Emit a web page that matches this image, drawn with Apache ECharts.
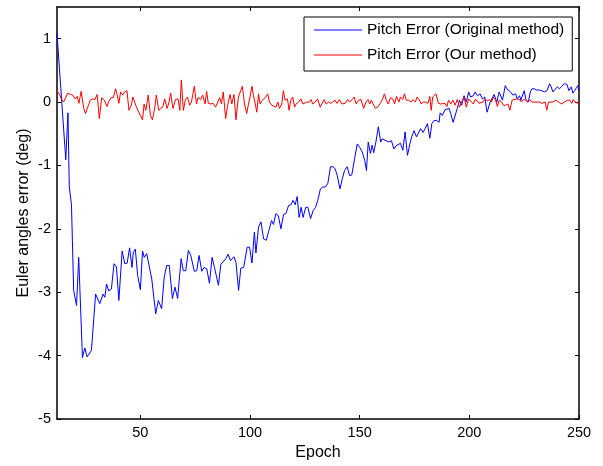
<!DOCTYPE html>
<html>
<head>
<meta charset="utf-8">
<script src="https://cdn.jsdelivr.net/npm/echarts@6/dist/echarts.min.js"></script>
<style>html,body{margin:0;padding:0;background:#fff;}#c{width:603px;height:466px;}</style>
</head>
<body>
<div id="c"></div>
<script>
// ---- data ----
const xTicks = [50, 100, 150, 200, 250];
const yTicks = [-5, -4, -3, -2, -1, 0, 1];
const seriesNames = ['Pitch Error (Original method)', 'Pitch Error (Our method)'];

const origEpoch = [12,16,17,17.6,18.6,19.6,20.9,21.9,23.6,24.7,25.7,27.7,29.6,31.5,33,33.8,34.6,35.6,36.8,38,39.1,40.2,41.7,42.9,44,45.1,46.2,46.8,47.7,48.8,50,51,51.8,52.9,53.7,55.2,57,58.2,59.7,60.9,62,63.2,64.6,65.8,67,68.6,69.6,70.7,71.9,73,74.6,75.7,76.8,78,79,80.3,81.5,82.7,83.8,84.7,85.6,86.7,87.6,89,90,91.1,92.7,93.6,94.8,95.8,97.1,98.7,99.8,100.9,102,102.7,103.9,105,106.2,107.4,108.6,109.8,110.7,111.8,112.9,114.1,115.3,116.4,117.6,118.7,119.6,120.6,121.5,122.4,123.3,124.2,125.4,126.4,127.6,128.8,129.9,130.9,132.1,133.2,134.4,135.5,136.7,137.8,138.8,139.8,141,142.1,143.1,144.3,145.4,146.4,147.7,148.9,150.1,151.2,152.3,153.1,153.9,154.9,155.7,156.4,157.4,158.5,159.6,160.3,161.1,162.1,163.3,164.5,165.6,166.6,167.5,168.6,169.7,170.7,171.8,172.9,173.8,174.8,175.9,176.8,177.8,178.9,179.8,180.9,182,182.9,183.9,185.1,186.2,186.7,187.7,188.9,189.8,190.8,191.5,192.6,193.5,194.5,195.5,196.5,197.6,198.6,199.7,200.6,201.8,202.6,203.7,204.9,206,207,208.1,208.8,209.5,210.3,211.3,212.5,213.6,214.4,215.1,216.4,217.1,218,218.8,219.8,221.1,221.8,222.9,223.5,224.3,225,225.8,226.9,227.8,228.6,229.6,230.7,231.9,233,234.2,235.4,236.6,237.3,238.1,238.9,240.1,241.1,242.2,243.4,244.5,245.4,246.5,247.2,248,248.8,249.5,250];
const origError = [1.08,-0.91,-0.17,-1.34,-1.62,-2.97,-3.21,-2.45,-4.03,-3.88,-4.02,-3.92,-3.03,-3.18,-3.03,-3.08,-2.87,-2.98,-2.95,-2.55,-2.6,-3.13,-2.35,-2.55,-2.54,-2.3,-2.61,-2.37,-2.32,-2.74,-2.96,-2.35,-2.45,-2.39,-2.39,-2.79,-3.34,-3.13,-3.26,-2.76,-2.58,-2.58,-3.1,-2.92,-3.1,-2.47,-2.66,-2.66,-2.34,-2.42,-2.67,-2.66,-2.42,-2.67,-2.61,-2.63,-2.86,-2.45,-2.61,-2.61,-2.89,-2.56,-2.58,-2.47,-2.4,-2.5,-2.44,-2.53,-2.97,-2.62,-2.61,-2.29,-2.29,-2.54,-2.05,-2.38,-1.97,-1.89,-2.16,-2.18,-2.03,-1.87,-1.93,-1.76,-1.79,-2.0,-1.77,-1.76,-1.63,-1.62,-1.55,-1.62,-1.49,-1.82,-1.66,-1.82,-1.66,-1.66,-1.84,-1.71,-1.66,-1.55,-1.37,-1.34,-1.34,-1.28,-1.02,-1.02,-1.05,-1.16,-1.37,-1.21,-1.08,-1.02,-1.16,-1.15,-0.89,-0.66,-0.72,-0.79,-0.92,-1.08,-0.63,-0.81,-0.68,-0.8,-0.63,-0.39,-0.63,-0.58,-0.6,-0.61,-0.63,-0.61,-0.74,-0.69,-0.72,-0.65,-0.76,-0.47,-0.84,-0.66,-0.54,-0.45,-0.55,-0.53,-0.42,-0.48,-0.42,-0.34,-0.57,-0.34,-0.29,-0.29,-0.32,-0.17,-0.21,-0.12,-0.14,-0.1,-0.18,-0.32,-0.34,-0.1,0.03,-0.05,0.1,0.0,0.16,0.08,0.1,0.16,0.1,0.13,0.05,0.08,-0.16,-0.13,0.0,-0.03,0.12,0.0,0.16,0.18,0.03,0.26,0.21,0.18,0.16,0.11,0.13,0.05,0.1,0.03,0.05,0.18,0.04,0.0,0.16,0.21,0.21,0.19,0.19,0.18,0.16,0.18,0.29,0.24,0.16,0.18,0.24,0.21,0.25,0.29,0.28,0.18,0.24,0.14,0.18,0.21,0.26,0.18];

const ourEpoch = [12,13.3,14,15,15.9,16.9,18.2,19.2,20.3,21.2,22,23,24.2,25,26,27.2,28.3,29.3,30.3,31.3,32.4,33.6,34.8,35.6,36.7,37.7,38.7,39.5,40.2,41,42,42.8,43.9,44.8,45.9,46.6,47.9,49,50,51,51.7,52.5,53.6,54.6,55.5,56.6,57.3,58.4,59.3,60.3,61.1,62.2,63.1,63.8,64.9,66,67.2,68,68.7,69.6,70.5,71.5,72.5,73.3,74.6,75.6,76.3,77.5,78.4,79.5,80.2,81,82.2,83.2,84.3,85.2,86.2,87,87.8,88.9,89.8,90.9,91.7,92.7,93.6,94.7,95.5,96.5,97.5,98.5,99.3,100,100.9,101.6,102.4,103.1,103.9,104.6,105.4,106.2,107.2,108.1,108.9,109.9,110.7,111.8,112.7,113.4,114.5,115.2,116,117.1,117.8,118.6,119.5,120.3,121,122.1,123.2,124.1,124.8,125.9,127,127.8,128.6,129.7,130.8,132,132.7,133.8,134.7,135.8,136.8,137.7,138.8,139.6,140.7,141.9,142.6,143.4,144.5,145.4,146.5,147.5,148.4,149.5,150.6,151.8,152.9,153.8,154.6,155.3,156.4,157.2,158.2,159.2,160.2,161.3,162.1,163,164.1,165.1,165.9,166.8,167.9,168.6,169.7,170.4,171.3,172.4,173.4,174.4,175.4,176.2,177.3,178,179,180,181.1,182,182.6,183.3,184.2,184.8,185.9,186.9,187.7,188.9,189.8,190.5,191.5,192.6,193.5,194.5,195.5,196.5,197.6,198.6,199.7,200.6,201.8,202.6,203.7,204.4,205.2,206.2,207,208.2,209.2,210.1,211,211.9,212.8,213.6,214.7,215.5,216.5,217.6,218.5,219.5,220.3,221.4,222.1,222.9,223.8,224.6,225.6,226.6,227.5,228.6,229.4,230.5,231.2,232.1,233.1,233.8,234.6,235.3,236.1,236.8,237.9,238.8,239.6,240.6,241.4,242.2,243.2,244.1,244.8,245.9,246.7,247.4,248.2,248.9,249.7,250];
const ourError = [0.18,0.11,0.05,0.0,0.03,0.14,0.12,0.11,0.05,0.09,-0.02,0.17,-0.1,-0.18,-0.08,0.03,0.05,0.04,0.12,-0.26,0.07,0.03,-0.07,0.01,0.07,0.07,0.21,0.11,-0.02,0.16,0.11,0.16,0.18,-0.13,-0.05,0.08,-0.05,-0.14,-0.21,-0.28,-0.03,-0.13,0.11,-0.21,-0.28,-0.08,0.11,-0.13,-0.1,-0.07,0.05,-0.1,0.0,0.14,-0.1,0.04,0.05,-0.13,0.35,-0.13,0.03,0.08,-0.05,0.0,0.25,-0.03,0.07,0.04,0.11,-0.03,0.17,-0.02,-0.03,-0.02,-0.08,-0.07,0.07,-0.03,0.16,-0.26,-0.05,0.12,-0.03,0.12,-0.28,0.08,0.1,0.25,-0.03,-0.18,-0.03,0.08,0.25,0.1,-0.03,-0.16,0.13,-0.03,0.02,0.0,0.08,0.13,0.0,-0.05,-0.03,-0.08,0.0,-0.1,-0.03,0.18,0.03,0.05,-0.13,0.03,0.08,-0.08,-0.03,0.0,0.05,-0.03,-0.05,0.0,0.0,0.04,-0.03,0.0,0.05,-0.08,-0.08,0.04,-0.03,0.0,-0.02,0.0,0.03,-0.02,0.04,-0.03,0.0,-0.02,0.04,0.0,0.04,0.08,-0.03,0.03,0.04,-0.1,0.0,0.04,-0.03,0.03,-0.05,-0.1,-0.08,-0.03,0.03,0.13,0.03,-0.03,0.07,0.05,-0.03,0.09,0.0,0.08,0.04,0.13,0.03,0.03,0.0,0.04,0.0,0.08,0.03,-0.03,0.0,0.0,-0.02,0.09,-0.13,0.08,0.09,0.13,-0.02,-0.03,-0.03,-0.02,-0.07,0.03,-0.03,0.03,-0.05,0.04,-0.08,0.0,0.08,-0.08,0.05,0.05,-0.03,0.04,0.02,-0.02,0.0,0.0,0.05,0.02,0.04,0.0,0.08,0.04,-0.07,0.03,0.0,-0.05,-0.05,-0.03,-0.13,0.03,0.04,0.05,0.03,0.04,0.0,0.04,0.03,0.0,0.04,0.0,0.03,0.0,-0.03,0.0,-0.02,-0.02,0.0,-0.13,0.0,-0.02,0.0,-0.02,0.03,0.0,0.03,-0.03,0.0,0.0,0.03,0.03,-0.02,0.04,0.0,0.0,-0.02,0.0];

// ---- chart ----
const FONT = 'Liberation Sans, Arial, sans-serif';
const pair = (xs, ys) => xs.map((x, i) => [x, ys[i]]);
const chart = echarts.init(document.getElementById('c'), null, { renderer: 'canvas' });

const axisLineStyle = { show: true, onZero: false, lineStyle: { color: '#000', width: 1.5 } };
const tickStyle = { show: true, inside: true, length: 4, lineStyle: { color: '#000', width: 1 } };
const LINE_ICON = 'path://M0,0L48,0L48,1.2L0,1.2Z';

chart.setOption({
  animation: false,
  backgroundColor: '#fff',
  grid: { left: 57, right: 24, top: 7, bottom: 47, show: false },
  legend: {
    orient: 'vertical',
    left: 304, top: 17,
    padding: [5, 8, 8, 10],
    itemWidth: 48, itemHeight: 14, itemGap: 9,
    symbolKeepAspect: true,
    borderColor: '#000', borderWidth: 1, borderRadius: 0,
    backgroundColor: '#fff',
    textStyle: { fontFamily: FONT, fontSize: 15.5, color: '#000' },
    data: seriesNames.map(n => ({ name: n, icon: LINE_ICON })),
    z: 10
  },
  xAxis: [
    {
      type: 'value', min: 12, max: 250, position: 'bottom',
      name: 'Epoch', nameLocation: 'middle', nameGap: 26, nameMoveOverlap: false,
      nameTextStyle: { fontFamily: FONT, fontSize: 16, color: '#000' },
      axisLine: axisLineStyle,
      axisTick: Object.assign({ customValues: xTicks }, tickStyle),
      axisLabel: { customValues: xTicks, fontFamily: FONT, fontSize: 14.5, color: '#000', margin: 6 },
      splitLine: { show: false }
    },
    {
      type: 'value', min: 12, max: 250, position: 'top',
      axisLine: axisLineStyle,
      axisTick: Object.assign({ customValues: xTicks }, tickStyle),
      axisLabel: { show: false },
      splitLine: { show: false }
    }
  ],
  yAxis: [
    {
      type: 'value', min: -5, max: 1.5, position: 'left',
      name: 'Euler angles error (deg)', nameLocation: 'middle', nameGap: 25, nameMoveOverlap: false,
      nameTextStyle: { fontFamily: FONT, fontSize: 16, color: '#000' },
      axisLine: axisLineStyle,
      axisTick: Object.assign({ customValues: yTicks }, tickStyle),
      axisLabel: { customValues: yTicks, fontFamily: FONT, fontSize: 14.5, color: '#000', margin: 6 },
      splitLine: { show: false }
    },
    {
      type: 'value', min: -5, max: 1.5, position: 'right',
      axisLine: axisLineStyle,
      axisTick: Object.assign({ customValues: yTicks }, tickStyle),
      axisLabel: { show: false },
      splitLine: { show: false }
    }
  ],
  series: [
    {
      name: seriesNames[0], type: 'line', xAxisIndex: 0, yAxisIndex: 0,
      data: pair(origEpoch, origError),
      symbol: 'none', lineStyle: { color: '#0000ff', width: 1 }, itemStyle: { color: '#0000ff' },
      z: 3
    },
    {
      name: seriesNames[1], type: 'line', xAxisIndex: 0, yAxisIndex: 0,
      data: pair(ourEpoch, ourError),
      symbol: 'none', lineStyle: { color: '#ff0000', width: 1 }, itemStyle: { color: '#ff0000' },
      z: 4
    }
  ]
});
</script>
</body>
</html>
